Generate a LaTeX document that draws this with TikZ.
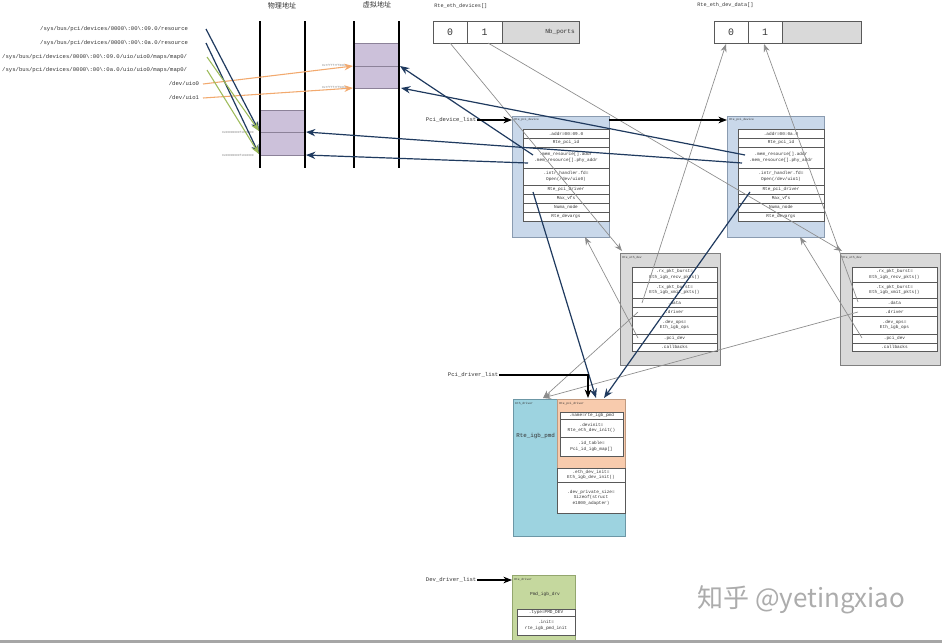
\documentclass[tikz,border=0pt]{standalone}
\usepackage{fontspec}
\setmainfont{Liberation Mono}
\newfontfamily\cjk{Noto Sans CJK SC}
\usetikzlibrary{arrows.meta}
\definecolor{pcifill}{HTML}{C9D8EA}
\definecolor{pciline}{HTML}{8A9BB0}
\definecolor{ethfill}{HTML}{D9D9D9}
\definecolor{ethline}{HTML}{7F7F7F}
\definecolor{drvfill}{HTML}{9DD3E0}
\definecolor{drvline}{HTML}{6C97A6}
\definecolor{pdrvfill}{HTML}{F8CBAD}
\definecolor{pdrvline}{HTML}{C09A80}
\definecolor{rtefill}{HTML}{C5D89E}
\definecolor{rteline}{HTML}{93A66E}
\definecolor{purp}{HTML}{CCC1DA}
\definecolor{purpline}{HTML}{8C8299}
\definecolor{navy}{HTML}{1F3A5F}
\definecolor{orng}{HTML}{F2A96E}
\definecolor{olive}{HTML}{9DBB5A}
\definecolor{gline}{HTML}{8C8C8C}
\definecolor{txt}{HTML}{333333}
\newcommand\fs[2]{\fontsize{#1}{#2}\selectfont}
\newcommand\mybox[7][]{%
  \node[inner sep=0pt,outer sep=0pt,align=center,
        minimum width={(#5-#3)*0.75pt},minimum height={(#6-#4)*0.75pt},#1]
        (#2) at ({(#3+#5)/2},{(#4+#6)/2}) {#7};}
\tikzset{
  rowbox/.style={draw=gray!70!black,fill=white,line width=0.35pt,font=\fs{3.3pt}{4.2pt},text=txt},
  pciout/.style={draw=pciline,fill=pcifill,line width=0.5pt},
  ethout/.style={draw=ethline,fill=ethfill,line width=0.5pt},
  drvout/.style={draw=drvline,fill=drvfill,line width=0.5pt},
  pdrvout/.style={draw=pdrvline,fill=pdrvfill,line width=0.5pt},
  rteout/.style={draw=rteline,fill=rtefill,line width=0.5pt},
  arrcell/.style={draw=gray!70!black,fill=white,line width=0.5pt,font=\fs{7.4pt}{8pt},text=txt},
  tinyt/.style={font=\fs{2.2pt}{2.5pt},text=txt,inner sep=0pt,anchor=north west},
  lbl/.style={font=\fs{4.2pt}{5pt},text=txt,inner sep=0.5pt},
  navyarr/.style={draw=navy,line width=0.9pt,-{Stealth[length=7pt,width=5.5pt]}},
  greyarr/.style={draw=gline,line width=0.5pt,-{Stealth[length=6pt,width=4.5pt]}},
  oliarr/.style={draw=olive,line width=0.8pt,-{Stealth[length=6.5pt,width=5pt]}},
  orarr/.style={draw=orng,line width=0.8pt,-{Stealth[length=6.5pt,width=5pt]}},
  blkarr/.style={draw=black,line width=0.8pt,-{Stealth[length=6.5pt,width=5pt]}},
}
\begin{document}
\begin{tikzpicture}[x=0.75pt,y=-0.75pt]
\useasboundingbox (0,0) rectangle (942,643);
\fill[white] (0,0) rectangle (942,643);

% ---------- address columns ----------
\node[font=\cjk\fs{5.3pt}{6pt},text=txt] (phyt) at (282,6) {物理地址};
\node[font=\cjk\fs{5.3pt}{6pt},text=txt] (virt) at (377,5) {虚拟地址};
\filldraw[fill=purp,draw=purpline,line width=0.5pt] (260,110) rectangle (305,155);
\draw[purpline,line width=0.5pt] (260,132) -- (305,132);
\filldraw[fill=purp,draw=purpline,line width=0.5pt] (354,43) rectangle (399,88);
\draw[purpline,line width=0.5pt] (354,66) -- (399,66);
\draw[black,line width=0.8pt] (260,21) -- (260,168) (305,21) -- (305,168)
  (354,21) -- (354,168) (399,21) -- (399,168);
\node[font=\fs{2.2pt}{2.5pt},text=gray,anchor=east,inner sep=0pt] (pa1) at (254,132) {0x00000000f1000000};
\node[font=\fs{2.2pt}{2.5pt},text=gray,anchor=east,inner sep=0pt] (pa2) at (254,155) {0x00000000f1040000};
\node[font=\fs{2.2pt}{2.5pt},text=gray,anchor=east,inner sep=0pt] (va1) at (347,65) {0x7ffff7ff6000};
\node[font=\fs{2.2pt}{2.5pt},text=gray,anchor=east,inner sep=0pt] (va2) at (347,87) {0x7ffff7ff5000};

% ---------- left labels ----------
\node[lbl,anchor=east] (l1) at (189,29) {/sys/bus/pci/devices/0000\textbackslash:00\textbackslash:09.0/resource};
\node[lbl,anchor=east] (l2) at (189,43) {/sys/bus/pci/devices/0000\textbackslash:00\textbackslash:0a.0/resource};
\node[lbl,anchor=east] (l3) at (188,57) {/sys/bus/pci/devices/0000\textbackslash:00\textbackslash:09.0/uio/uio0/maps/map0/};
\node[lbl,anchor=east] (l4) at (188,70) {/sys/bus/pci/devices/0000\textbackslash:00\textbackslash:0a.0/uio/uio0/maps/map0/};
\node[lbl,anchor=east] (l5) at (200,84) {/dev/uio0};
\node[lbl,anchor=east] (l6) at (200,98) {/dev/uio1};
\coordinate (l1s) at (206,29);
\coordinate (l2s) at (206,43);
\coordinate (l3s) at (207,57);
\coordinate (l4s) at (207,70);
\coordinate (l5s) at (203,84);
\coordinate (l6s) at (203,98);
\coordinate (pin1) at (259,131);
\coordinate (pin2) at (259,154);
\coordinate (vin1) at (353,66);
\coordinate (vin2) at (353,88);

% ---------- arrays ----------
\node[font=\fs{3.9pt}{4.5pt},text=txt,anchor=west,inner sep=0pt] (ta1) at (434,6) {Rte\_eth\_devices[]};
\mybox[arrcell]{a0}{433}{21}{467}{43}{0}
\mybox[arrcell]{a1}{467}{21}{502}{43}{1}
\mybox[arrcell,fill=ethfill]{an}{502}{21}{579}{43}{}
\node[font=\fs{4.6pt}{5pt},text=txt,anchor=east,inner sep=0pt] (anb) at (575,32) {Nb\_ports};
\node[font=\fs{3.9pt}{4.5pt},text=txt,anchor=west,inner sep=0pt] (ta2) at (697,5) {Rte\_eth\_dev\_data[]};
\mybox[arrcell]{d0}{714}{21}{748}{43}{0}
\mybox[arrcell]{d1}{748}{21}{782}{43}{1}
\mybox[arrcell,fill=ethfill]{dn}{782}{21}{861}{43}{}

% ---------- pci devices ----------
\mybox[pciout]{pd1}{512}{116}{609}{237}{}
\node[tinyt] (pd1t) at (514,118) {Rte\_pci\_device};
\mybox[rowbox]{pd1a}{523}{129}{609}{138}{.addr=00:09.0}
\mybox[rowbox]{pd1b}{523}{138}{609}{147}{Rte\_pci\_id}
\mybox[rowbox]{pd1c}{523}{147}{609}{168}{.mem\_resource[].addr\\.mem\_resource[].phy\_addr}
\mybox[rowbox]{pd1d}{523}{168}{609}{185}{.intr\_handler.fd=\\Open(/dev/uio0)}
\mybox[rowbox]{pd1e}{523}{185}{609}{194}{Rte\_pci\_driver}
\mybox[rowbox]{pd1f}{523}{194}{609}{203}{Max\_vfs}
\mybox[rowbox]{pd1g}{523}{203}{609}{212}{Numa\_node}
\mybox[rowbox]{pd1h}{523}{212}{609}{221}{Rte\_devargs}

\mybox[pciout]{pd2}{727}{116}{824}{237}{}
\node[tinyt] (pd2t) at (729,118) {Rte\_pci\_device};
\mybox[rowbox]{pd2a}{738}{129}{824}{138}{.addr=00:0a.0}
\mybox[rowbox]{pd2b}{738}{138}{824}{147}{Rte\_pci\_id}
\mybox[rowbox]{pd2c}{738}{147}{824}{168}{.mem\_resource[].addr\\.mem\_resource[].phy\_addr}
\mybox[rowbox]{pd2d}{738}{168}{824}{185}{.intr\_handler.fd=\\Open(/dev/uio1)}
\mybox[rowbox]{pd2e}{738}{185}{824}{194}{Rte\_pci\_driver}
\mybox[rowbox]{pd2f}{738}{194}{824}{203}{Max\_vfs}
\mybox[rowbox]{pd2g}{738}{203}{824}{212}{Numa\_node}
\mybox[rowbox]{pd2h}{738}{212}{824}{221}{Rte\_devargs}

% ---------- eth devs ----------
\mybox[ethout]{ed1}{620}{253}{720}{365}{}
\node[tinyt] (ed1t) at (622,256) {Rte\_eth\_dev};
\mybox[rowbox]{ed1a}{632}{267}{717}{282}{.rx\_pkt\_burst=\\Eth\_igb\_recv\_pkts()}
\mybox[rowbox]{ed1b}{632}{282}{717}{298}{.tx\_pkt\_burst=\\Eth\_igb\_xmit\_pkts()}
\mybox[rowbox]{ed1c}{632}{298}{717}{307}{.data}
\mybox[rowbox]{ed1d}{632}{307}{717}{316}{.driver}
\mybox[rowbox]{ed1e}{632}{316}{717}{334}{.dev\_ops=\\Eth\_igb\_ops}
\mybox[rowbox]{ed1f}{632}{334}{717}{343}{.pci\_dev}
\mybox[rowbox]{ed1g}{632}{343}{717}{351}{.callbacks}

\mybox[ethout]{ed2}{840}{253}{940}{365}{}
\node[tinyt] (ed2t) at (842,256) {Rte\_eth\_dev};
\mybox[rowbox]{ed2a}{852}{267}{937}{282}{.rx\_pkt\_burst=\\Eth\_igb\_recv\_pkts()}
\mybox[rowbox]{ed2b}{852}{282}{937}{298}{.tx\_pkt\_burst=\\Eth\_igb\_xmit\_pkts()}
\mybox[rowbox]{ed2c}{852}{298}{937}{307}{.data}
\mybox[rowbox]{ed2d}{852}{307}{937}{316}{.driver}
\mybox[rowbox]{ed2e}{852}{316}{937}{334}{.dev\_ops=\\Eth\_igb\_ops}
\mybox[rowbox]{ed2f}{852}{334}{937}{343}{.pci\_dev}
\mybox[rowbox]{ed2g}{852}{343}{937}{351}{.callbacks}

% ---------- drivers ----------
\mybox[drvout]{edv}{513}{399}{625}{536}{}
\node[tinyt] (edvt) at (515,402) {Eth\_driver};
\node[font=\fs{4.4pt}{5pt},text=txt,anchor=west,inner sep=0pt] (igb) at (516,436) {Rte\_igb\_pmd};
\mybox[pdrvout]{pdv}{557}{399}{625}{468}{}
\node[tinyt] (pdvt) at (559,402) {Rte\_pci\_driver};
\mybox[rowbox]{pdva}{560}{412}{623}{419}{.name=rte\_igb\_pmd}
\mybox[rowbox]{pdvb}{560}{419}{623}{437}{.devinit=\\Rte\_eth\_dev\_init()}
\mybox[rowbox]{pdvc}{560}{437}{623}{456}{.id\_table=\\Pci\_id\_igb\_map[]}
\mybox[rowbox]{edva}{557}{468}{625}{482}{.eth\_dev\_init=\\Eth\_igb\_dev\_init()}
\mybox[rowbox]{edvb}{557}{482}{625}{513}{.dev\_private\_size=\\Sizeof(struct\\e1000\_adapter)}

\mybox[rteout]{rd}{512}{575}{575}{641}{}
\node[tinyt] (rdt) at (514,578) {Rte\_driver};
\node[font=\fs{3.4pt}{4pt},text=txt,inner sep=0pt] (pmd) at (545,594) {Pmd\_igb\_drv};
\mybox[rowbox]{rda}{517}{609}{575}{616}{.type=PMD\_DEV}
\mybox[rowbox]{rdb}{517}{616}{575}{635}{.init=\\rte\_igb\_pmd\_init}

% ---------- list labels ----------
\node[lbl,anchor=west] (pdl) at (425,120) {Pci\_device\_list};
\node[lbl,anchor=west] (prl) at (447,375) {Pci\_driver\_list};
\node[lbl,anchor=west] (ddl) at (425,580) {Dev\_driver\_list};
\coordinate (pd1in) at (512,120);
\coordinate (pd1out) at (609,120);
\coordinate (pd2in) at (727,120);
\coordinate (pdvK) at (588,398);
\coordinate (rdin) at (512,580);

% ---------- connector end points ----------
\coordinate (pd1addr) at (533,155);
\coordinate (pd1phy) at (528,163);
\coordinate (pd2addr) at (745,155);
\coordinate (pd2phy) at (742,163);
\coordinate (pout1) at (306,132);
\coordinate (pout2) at (306,155);
\coordinate (vout1) at (400,66);
\coordinate (vout2) at (401,88);
\coordinate (pd1drv) at (533,192);
\coordinate (pd2drv) at (750,192);
\coordinate (pdvA) at (596,398);
\coordinate (pdvB) at (604,398);
\coordinate (a0s) at (450,43);
\coordinate (a1s) at (488,43);
\coordinate (ed1c1) at (622,251);
\coordinate (ed2c1) at (842,251);
\coordinate (ed1dat) at (642,303);
\coordinate (ed2dat) at (858,302);
\coordinate (d0in) at (726,44);
\coordinate (d1in) at (764,44);
\coordinate (ed1pci) at (638,338);
\coordinate (ed2pci) at (862,338);
\coordinate (pd1bot) at (585,237);
\coordinate (pd2bot) at (800,237);
\coordinate (ed1drv) at (638,312);
\coordinate (ed2drv) at (858,312);
\coordinate (edvin) at (543,398);

% ---------- connectors ----------
\draw[greyarr] (a0s) -- (ed1c1);
\draw[greyarr] (a1s) -- (ed2c1);
\draw[greyarr] (ed1dat) -- (d0in);
\draw[greyarr] (ed2dat) -- (d1in);
\draw[greyarr] (ed1pci) -- (pd1bot);
\draw[greyarr] (ed2pci) -- (pd2bot);
\draw[greyarr] (ed1drv) -- (edvin);
\draw[greyarr] (ed2drv) -- (edvin);

\draw[orarr] (l5s) -- (vin1);
\draw[orarr] (l6s) -- (vin2);
\draw[navyarr] (l1s) -- (pin1);
\draw[navyarr] (l2s) -- (pin2);
\draw[oliarr] (l3s) -- (pin1);
\draw[oliarr] (l4s) -- (pin2);

\draw[navyarr] (pd1addr) -- (vout1);
\draw[navyarr] (pd2addr) -- (vout2);
\draw[navyarr] (pd2phy) -- (pout1);
\draw[navyarr] (pd1phy) -- (pout2);
\draw[navyarr] (pd1drv) -- (pdvA);
\draw[navyarr] (pd2drv) -- (pdvB);

\draw[blkarr] (pdl.east) -- (pd1in);
\draw[blkarr] (pd1out) -- (pd2in);
\draw[blkarr] (prl.east) -| (pdvK);
\draw[blkarr] (ddl.east) -- (rdin);

% ---------- watermark ----------
\node[font=\cjk\fs{19.5pt}{22pt},text=gray!65,anchor=west,inner sep=0pt] (wm) at (697,600) {知乎 @yetingxiao};
\fill[gray!70] (0,640) rectangle (942,643);
\end{tikzpicture}
\end{document}
